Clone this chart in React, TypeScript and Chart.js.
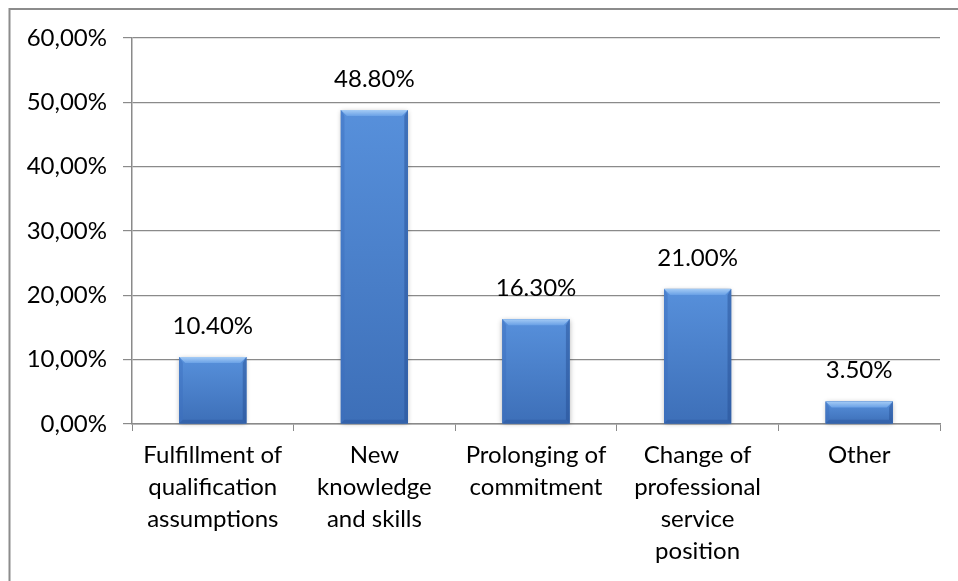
import React, { useEffect, useRef } from "react";
import { Chart, registerables } from "chart.js";

Chart.register(...registerables);

const categories: string[][] = [
  ["Fulfillment of", "qualification", "assumptions"],
  ["New", "knowledge", "and skills"],
  ["Prolonging of", "commitment"],
  ["Change of", "professional", "service", "position"],
  ["Other"],
];
const values: number[] = [10.4, 48.8, 16.3, 21.0, 3.5];
const yMin = 0;
const yMax = 60;
const yStep = 10;

const FONT = "Lato, 'Open Sans', sans-serif";
const FSIZE = 24;

const framePlugin = {
  id: "frame",
  beforeDraw(chart: any) {
    const ctx = chart.ctx;
    ctx.save();
    ctx.fillStyle = "#ffffff";
    ctx.fillRect(0, 0, chart.width, chart.height);
    ctx.strokeStyle = "#8c8c8c";
    ctx.lineWidth = 2;
    ctx.strokeRect(9.5, 9, chart.width + 100, chart.height + 100);
    ctx.restore();
  },
};

const bevelPlugin = {
  id: "bevel",
  afterDatasetsDraw(chart: any) {
    const ctx = chart.ctx;
    const meta = chart.getDatasetMeta(0);
    meta.data.forEach((bar: any, i: number) => {
      const { x, y, base, width } = bar.getProps(["x", "y", "base", "width"], true);
      const l = x - width / 2;
      const r = x + width / 2;
      const t = y;
      const b = base;
      const h = b - t;
      const bv = Math.min(6, h / 3);
      ctx.save();
      ctx.shadowColor = "rgba(0,0,0,0.3)";
      ctx.shadowBlur = 5;
      ctx.shadowOffsetY = 1;
      ctx.fillStyle = "#3f73bd";
      ctx.fillRect(l, t, width, h);
      ctx.restore();
      ctx.save();
      const g = ctx.createLinearGradient(0, t, 0, b);
      g.addColorStop(0, "#5790db");
      g.addColorStop(1, "#3d6fb8");
      ctx.fillStyle = g;
      ctx.fillRect(l, t, width, h);
      // top bevel
      const gt = ctx.createLinearGradient(0, t, 0, t + bv);
      gt.addColorStop(0, "#a4cbf5");
      gt.addColorStop(1, "#6aa1e6");
      ctx.fillStyle = gt;
      ctx.beginPath();
      ctx.moveTo(l, t);
      ctx.lineTo(r, t);
      ctx.lineTo(r - bv, t + bv);
      ctx.lineTo(l + bv, t + bv);
      ctx.closePath();
      ctx.fill();
      // left bevel
      ctx.fillStyle = "rgba(60,110,190,0.45)";
      ctx.beginPath();
      ctx.moveTo(l, t);
      ctx.lineTo(l + bv * 0.6, t + bv);
      ctx.lineTo(l + bv * 0.6, b - bv * 0.6);
      ctx.lineTo(l, b);
      ctx.closePath();
      ctx.fill();
      // right bevel
      ctx.fillStyle = "rgba(35,75,145,0.45)";
      ctx.beginPath();
      ctx.moveTo(r, t);
      ctx.lineTo(r - bv * 0.6, t + bv);
      ctx.lineTo(r - bv * 0.6, b - bv * 0.6);
      ctx.lineTo(r, b);
      ctx.closePath();
      ctx.fill();
      // bottom bevel
      ctx.fillStyle = "rgba(35,75,145,0.35)";
      ctx.beginPath();
      ctx.moveTo(l, b);
      ctx.lineTo(l + bv * 0.6, b - bv * 0.6);
      ctx.lineTo(r - bv * 0.6, b - bv * 0.6);
      ctx.lineTo(r, b);
      ctx.closePath();
      ctx.fill();
      // label
      ctx.fillStyle = "#000";
      ctx.font = `${FSIZE}px ${FONT}`;
      ctx.textAlign = "center";
      ctx.textBaseline = "middle";
      ctx.fillText(`${values[i].toFixed(2)}%`, x, t - 31);
      ctx.restore();
    });
  },
};

export default function App() {
  const ref = useRef<HTMLCanvasElement | null>(null);
  useEffect(() => {
    if (!ref.current) return;
    const chart = new Chart(ref.current, {
      type: "bar",
      data: {
        labels: categories,
        datasets: [
          {
            data: values,
            backgroundColor: "#4a7ec8",
            barPercentage: 0.415,
            categoryPercentage: 1,
          },
        ],
      },
      options: {
        animation: false,
        responsive: false,
        maintainAspectRatio: false,
        devicePixelRatio: 1,
        layout: { padding: { top: 38, right: 18, left: 0, bottom: 0 } },
        plugins: {
          legend: { display: false },
          tooltip: { enabled: false },
        },
        scales: {
          x: {
            grid: {
              drawOnChartArea: false,
              drawTicks: true,
              tickLength: 7,
              offset: true,
              color: "#8a8a8a",
            },
            border: { display: true, color: "#8a8a8a", width: 1.5 },
            ticks: {
              color: "#000",
              font: { family: FONT, size: FSIZE, lineHeight: 32 / FSIZE },
              padding: 8,
              maxRotation: 0,
              autoSkip: false,
            },
            afterFit(scale: any) {
              scale.height = 157;
            },
          },
          y: {
            min: yMin,
            max: yMax,
            grid: {
              color: "#8a8a8a",
              drawTicks: true,
              tickLength: 9,
              lineWidth: 1.2,
            },
            border: { display: true, color: "#8a8a8a", width: 1.5 },
            ticks: {
              stepSize: yStep,
              color: "#000",
              font: { family: FONT, size: FSIZE },
              padding: 16,
              callback: (v: any) => `${Number(v).toFixed(2).replace(".", ",")}%`,
            },
            afterFit(scale: any) {
              scale.width = 132;
            },
          },
        },
      },
      plugins: [framePlugin, bevelPlugin],
    });
    return () => chart.destroy();
  }, []);
  return (
    <div style={{ position: "fixed", left: 0, top: 0, width: 958, height: 581, background: "#fff" }}>
      <canvas ref={ref} width={958} height={581} style={{ display: "block" }} />
    </div>
  );
}
